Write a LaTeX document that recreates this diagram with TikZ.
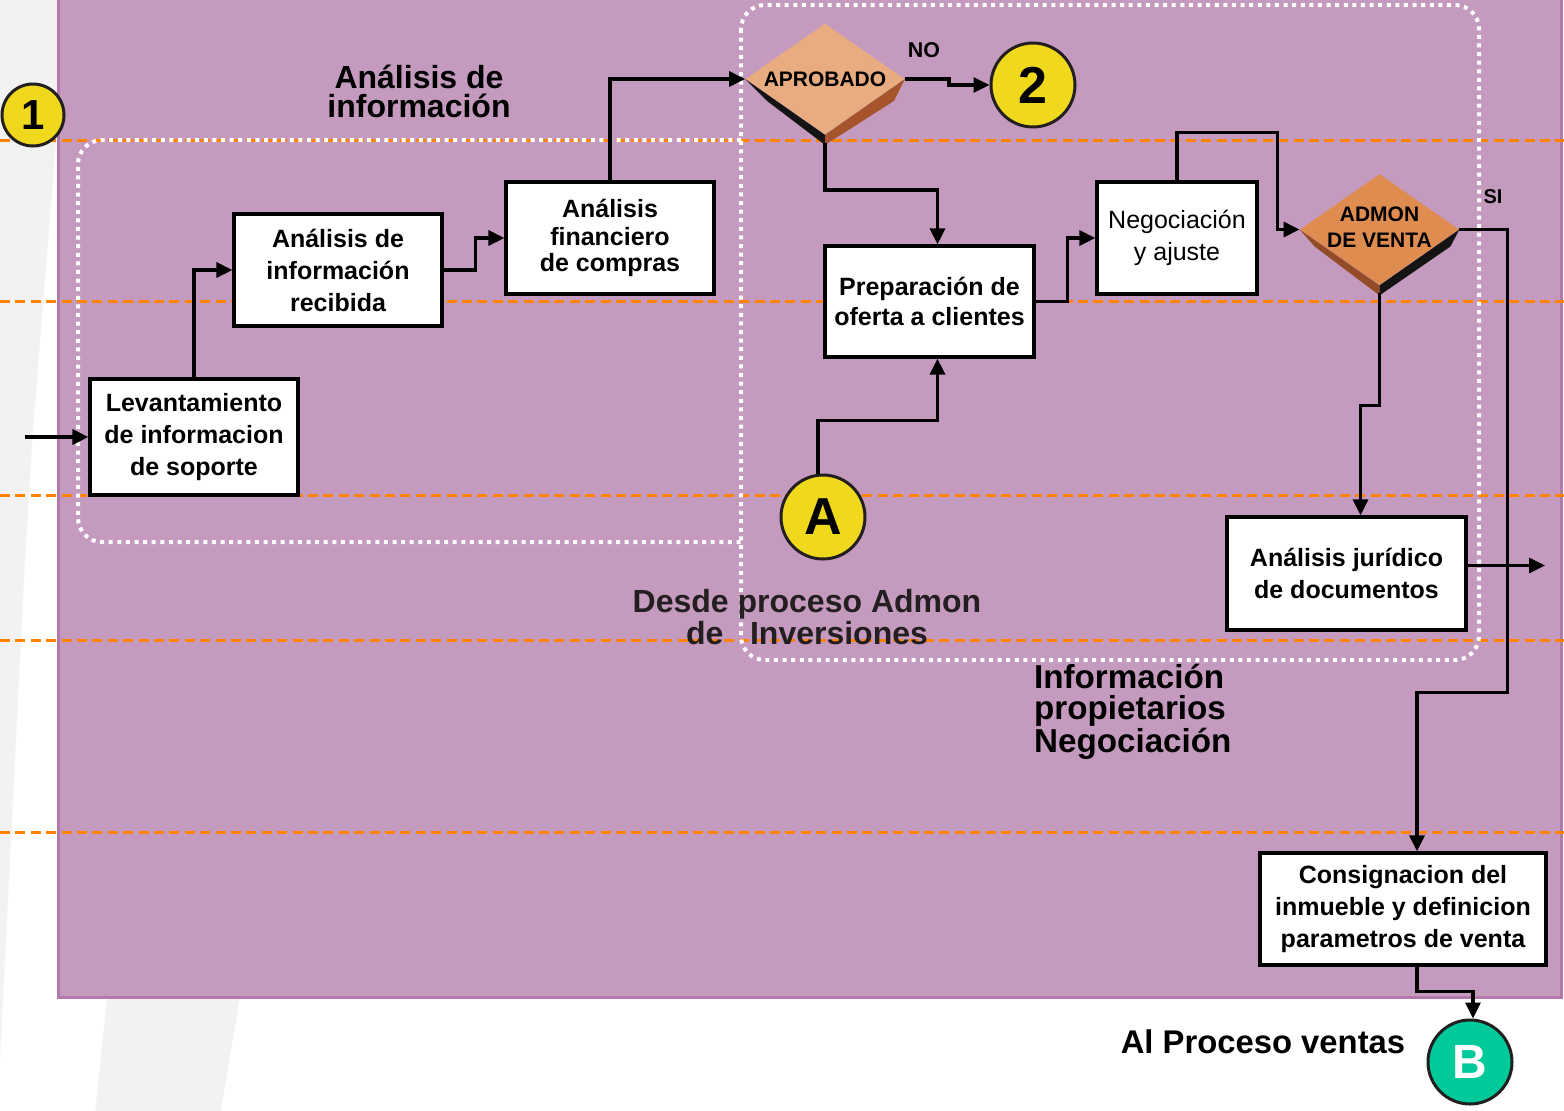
\documentclass[tikz,border=0pt]{standalone}
\usepackage{fontspec}
\setmainfont{Liberation Sans}
\usetikzlibrary{shapes.geometric,arrows.meta,calc}
\definecolor{lila}{HTML}{C49BBF}
\definecolor{lilaborde}{HTML}{B478AD}
\definecolor{naranja}{HTML}{FF8200}
\definecolor{sol}{HTML}{F0D91C}
\definecolor{verde}{HTML}{00C99A}
\definecolor{gris}{HTML}{F2F2F2}
\definecolor{salmon}{HTML}{E8AC80}
\definecolor{cobre}{HTML}{DE8C50}
\definecolor{cafe}{HTML}{A5542B}
\definecolor{tinta}{HTML}{231F20}
\begin{document}
\begin{tikzpicture}[x=0.5pt,y=-0.5pt,>={Triangle[length=8pt,width=7.5pt]},
    flow/.style={->,line width=1.6pt},
    box/.style={draw,line width=1.6pt,fill=white,align=center,inner sep=0pt,
      font=\bfseries\fontsize{12.5}{16}\selectfont},
    circ/.style={circle,draw=tinta,line width=1.5pt,fill=sol,inner sep=0pt,
      minimum size=42pt,font=\bfseries\fontsize{26}{26}\selectfont},
    dia/.style={diamond,inner sep=0pt,minimum width=79.5pt,minimum height=55.5pt},
    dtxt/.style={font=\bfseries\fontsize{10.5}{13}\selectfont,align=center},
    lane/.style={naranja,line width=1.5pt,dash pattern=on 5pt off 2.7pt},
    grupo/.style={white,line width=2pt,dash pattern=on 2pt off 2.3pt,rounded corners=12pt},
    titulo/.style={align=center,font=\bfseries\fontsize{16}{14.5}\selectfont}]
  \useasboundingbox (0,0) rectangle (1564,1110);
  \fill[gris] (0,-5) -- (57,-5) -- (57,130) -- (33,430) -- (25,560) -- (0,1060) -- cycle;
  \fill[gris] (107,998) -- (240,998) -- (220,1115) -- (95,1115) -- cycle;
  \draw[lilaborde,fill=lila,line width=1.5pt] (58,-5) rectangle (1561,997);
  \foreach \y in {140,301,495,640,832}
    \draw[lane] (0,\y) -- (1564,\y);
  \draw[grupo] (741,140) -- (78,140) -- (78,542) -- (741,542);
  \draw[grupo] (741,5) rectangle (1479,660);
  % textos
  \node[titulo] (tinfo) at (419,91) {Análisis de\\información};
  \node[titulo,text=tinta] (tdesde) at (807,617) {Desde proceso Admon\\ de~~~Inversiones};
  \node[titulo,align=left,anchor=west,font=\bfseries\fontsize{16.6}{15.5}\selectfont] (tprop) at (1027,712) {Información\\propietarios\\Negociación};
  \node[titulo,font=\bfseries\fontsize{16.4}{16}\selectfont] (tventas) at (1263,1042) {Al Proceso ventas};
  % nodos
  \node[box,minimum width=104pt,minimum height=58pt] (lev) at (194,437) {Levantamiento\\de informacion\\de soporte};
  \node[box,minimum width=104pt,minimum height=56pt] (air) at (338,270) {Análisis de\\información\\recibida};
  \node[box,minimum width=104pt,minimum height=56pt] (afc) at (610,238) {Análisis\\[-2pt]financiero\\[-3pt]de compras};
  \node[box,minimum width=104.5pt,minimum height=55.5pt] (prep) at (929.5,301.5) {Preparación de\\[-1pt]oferta a clientes};
  \node[box,minimum width=80pt,minimum height=56pt,font=\fontsize{12.5}{16}\selectfont] (neg) at (1177,238) {Negociación\\y ajuste};
  \node[box,minimum width=119.5pt,minimum height=56.5pt] (ajd) at (1346.5,573.5) {Análisis jurídico\\de documentos};
  \node[box,minimum width=143pt,minimum height=56pt] (cons) at (1403,909) {Consignacion del\\inmueble y definicion\\parametros de venta};
  \node[circ,minimum size=31pt,font=\bfseries\fontsize{21}{21}\selectfont] (c1) at (33,115) {1};
  \node[circ] (c2) at (1033,85) {2};
  \node[circ] (cA) at (823,517) {A};
  \node[circ,fill=verde,text=white,font=\bfseries\fontsize{24}{24}\selectfont] (cB) at (1470,1062) {B};
  \node[dia,fill=salmon,label={[dtxt]center:APROBADO}] (apr) at (825,79) {};
  \fill[black!92] (apr.west) -- ($(apr.west)+(22,22)$) -- ($(apr.south)+(0,10)$) -- (apr.south) -- cycle;
  \fill[cafe] (apr.south) -- ($(apr.south)+(0,10)$) -- ($(apr.east)+(-11,22)$) -- (apr.east) -- cycle;
  \node[dia,fill=cobre,label={[dtxt,yshift=1pt]center:ADMON\\DE VENTA}] (adm) at (1379.5,229.5) {};
  \fill[cafe!90!black] (adm.west) -- ($(adm.west)+(15,17)$) -- ($(adm.south)+(0,10)$) -- (adm.south) -- cycle;
  \fill[black!92] (adm.south) -- ($(adm.south)+(0,10)$) -- ($(adm.east)+(-9,17)$) -- (adm.east) -- cycle;
  \node[font=\bfseries\fontsize{10.7}{12}\selectfont] (no) at (924,50) {NO};
  \node[font=\bfseries\fontsize{10}{12}\selectfont] (si) at (1493,197) {SI};
  % conectores
  \coordinate (entrada) at (25,437);
  \coordinate (salida) at (1545,565.5);
  \draw[flow] (entrada) -- (lev.west);
  \draw[flow] (lev.north) |- (air.west);
  \draw[flow] (air.east) -- ++(32,0) |- (afc.west);
  \draw[flow] (afc.north) |- (apr.west);
  \draw[flow] (apr.east) -- ++(44,0) |- (c2.west);
  \draw[flow] ($(apr.south)+(0,8)$) -- ++(0,47) -| ([xshift=4pt]prep.north);
  \draw[flow] ([xshift=-2.5pt]cA.north) -- ++(0,-53) -| ([xshift=4pt]prep.south);
  \draw[flow] (prep.east) -- ++(32,0) |- (neg.west);
  \draw[flow] (neg.north) -- ++(0,-48) -| ($(adm.west)+(-22,0)$) -- (adm.west);
  \draw[flow] ($(adm.south)+(0,8)$) -- ++(0,112) -| ([xshift=7pt]ajd.north);
  \draw[flow] (adm.east) -- ++(48,0) -- ++(0,463) -| ([xshift=7pt]cons.north);
  \draw[flow] ([yshift=4pt]ajd.east) -- (salida);
  \draw[flow] ([xshift=7pt]cons.south) -- ++(0,25) -| ([xshift=1.5pt]cB.north);
\end{tikzpicture}
\end{document}
